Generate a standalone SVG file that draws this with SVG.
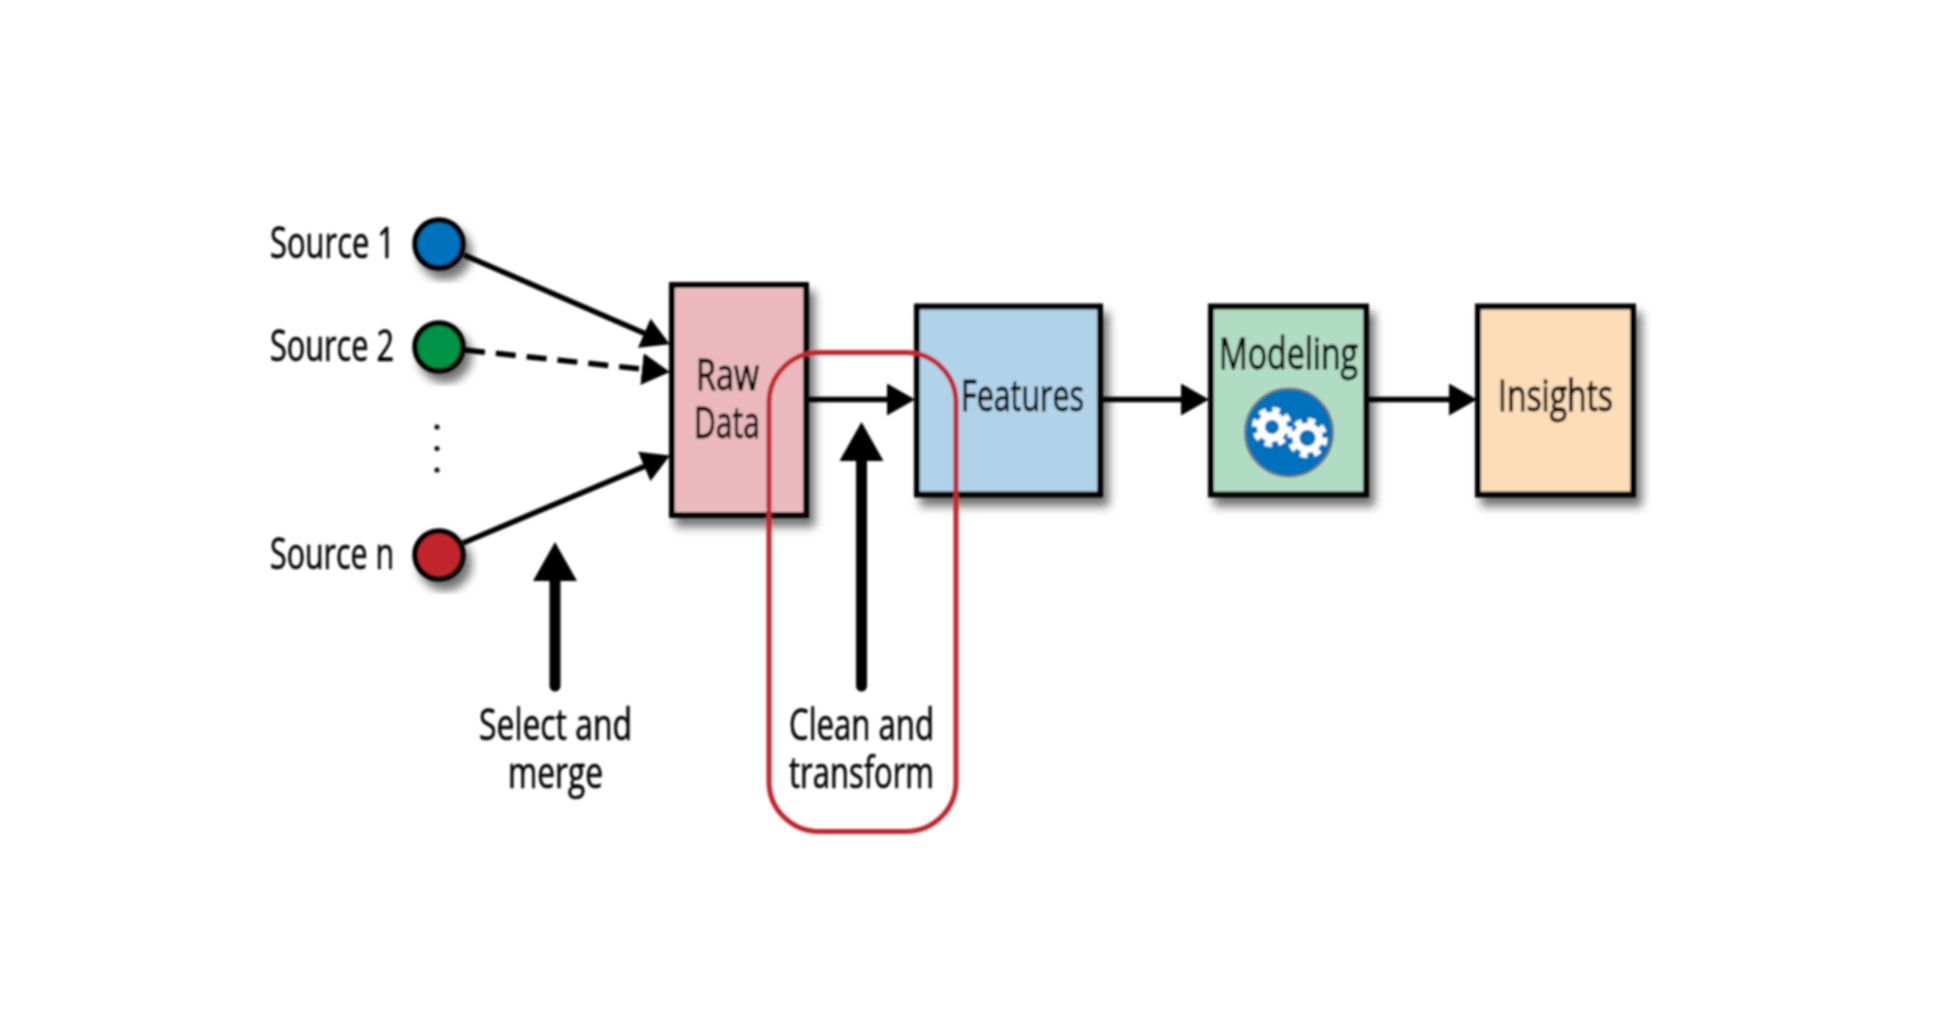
<svg xmlns="http://www.w3.org/2000/svg" width="1938" height="1022" viewBox="0 0 1938 1022">
<style>
text{font-family:"Open Sans","Liberation Sans",sans-serif;font-size:44px;fill:#000;stroke:#000;stroke-width:0.6;text-anchor:start}
.inbox{stroke-width:1}
.box{stroke:#000;stroke-width:6;filter:url(#sh)}
.src{stroke:#000;stroke-width:5.500;filter:url(#sh)}
.con{stroke:#000;stroke-width:5.500;fill:none}
.up{stroke:#000;stroke-width:11;stroke-linecap:round;fill:none}
</style>
<defs>
<filter id="sh" x="-30%" y="-30%" width="160%" height="160%"><feDropShadow dx="6" dy="9" stdDeviation="5" flood-color="#000" flood-opacity="0.55"/></filter>
<filter id="soft" x="0" y="0" width="100%" height="100%" filterUnits="userSpaceOnUse" primitiveUnits="userSpaceOnUse"><feGaussianBlur stdDeviation="0.8"/></filter>
<marker id="ah" markerUnits="userSpaceOnUse" markerWidth="30" markerHeight="33" refX="2" refY="16" orient="auto"><path d="M0,0L28,16L0,32z" fill="#000"/></marker>
<marker id="big" markerUnits="userSpaceOnUse" markerWidth="41" markerHeight="45" refX="2" refY="22" orient="auto"><path d="M0,0L39,22L0,44z" fill="#000"/></marker>
</defs>
<rect width="1938" height="1022" fill="#fff"/>
<g filter="url(#soft)">
<g id="connectors">
<line class="con" x1="464" y1="255" x2="646" y2="334" marker-end="url(#ah)"/>
<line class="con" x1="465" y1="350" x2="644" y2="369.3" stroke-dasharray="20 11" marker-end="url(#ah)"/>
<line class="con" x1="463" y1="543" x2="646" y2="465.7" marker-end="url(#ah)"/>
<line class="con" x1="808" y1="399.5" x2="889" y2="399.5" marker-end="url(#ah)"/>
<line class="con" x1="1102" y1="399.5" x2="1183" y2="399.5" marker-end="url(#ah)"/>
<line class="con" x1="1368" y1="399.5" x2="1451" y2="399.5" marker-end="url(#ah)"/>
<line class="up" x1="555" y1="686" x2="555" y2="579" marker-end="url(#big)"/>
<line class="up" x1="861.5" y1="686" x2="861.5" y2="459" marker-end="url(#big)"/>
</g>
<g id="source-1"><circle class="src" cx="439" cy="244" r="24" fill="#0071bc"/><text x="270" y="258" textLength="125" lengthAdjust="spacingAndGlyphs">Source 1</text></g>
<g id="source-2"><circle class="src" cx="439" cy="347" r="24" fill="#009245"/><text x="270" y="361" textLength="124" lengthAdjust="spacingAndGlyphs">Source 2</text></g>
<g id="ellipsis"><circle cx="437" cy="427" r="2.6" fill="#111"/><circle cx="437" cy="448.5" r="2.6" fill="#111"/><circle cx="437" cy="470" r="2.6" fill="#111"/></g>
<g id="source-n"><circle class="src" cx="439" cy="555" r="24" fill="#c1272d"/><text x="270" y="569" textLength="124" lengthAdjust="spacingAndGlyphs">Source n</text></g>
<g id="raw-data"><rect class="box" x="672" y="285" width="134" height="230" fill="#ebb9bd"/><text class="inbox" x="696" y="390" textLength="63" lengthAdjust="spacingAndGlyphs">Raw</text><text class="inbox" x="694" y="438" textLength="66" lengthAdjust="spacingAndGlyphs">Data</text></g>
<g id="features"><rect class="box" x="917" y="306.500" width="183" height="188" fill="#b0d3ea"/><text class="inbox" x="961" y="411" textLength="123" lengthAdjust="spacingAndGlyphs">Features</text></g>
<g id="modeling"><rect class="box" x="1211" y="306.500" width="155" height="188" fill="#b1dcc4"/><text class="inbox" x="1219" y="369" textLength="139" lengthAdjust="spacingAndGlyphs">Modeling</text>
<circle cx="1289" cy="432.500" r="44" fill="#0071bc" stroke="#777" stroke-width="2"/>
<g fill="#fff" stroke="#fff"><circle cx="1272" cy="427" r="15" stroke="none"/><circle cx="1272" cy="427" r="17" fill="none" stroke-width="6" stroke-dasharray="7 6.350"/><circle cx="1307.500" cy="438" r="15" stroke="none"/><circle cx="1307.500" cy="438" r="17" fill="none" stroke-width="6" stroke-dasharray="7 6.350"/></g>
<circle cx="1272" cy="427" r="7" fill="#0071bc"/><circle cx="1307.500" cy="438" r="8" fill="#0071bc"/></g>
<g id="insights"><rect class="box" x="1478" y="306.500" width="155" height="188" fill="#fddcb8"/><text class="inbox" x="1498" y="411" textLength="115" lengthAdjust="spacingAndGlyphs">Insights</text></g>
<g id="select-label"><text x="479" y="740" textLength="153" lengthAdjust="spacingAndGlyphs">Select and</text><text x="508" y="788" textLength="95" lengthAdjust="spacingAndGlyphs">merge</text></g>
<g id="clean-label"><text x="789" y="740" textLength="145" lengthAdjust="spacingAndGlyphs">Clean and</text><text x="789" y="788" textLength="145" lengthAdjust="spacingAndGlyphs">transform</text></g>
<g id="highlight"><rect x="769" y="352.500" width="187" height="479" rx="50" ry="50" fill="none" stroke="#c1272d" stroke-width="5"/></g>
</g>
</svg>
